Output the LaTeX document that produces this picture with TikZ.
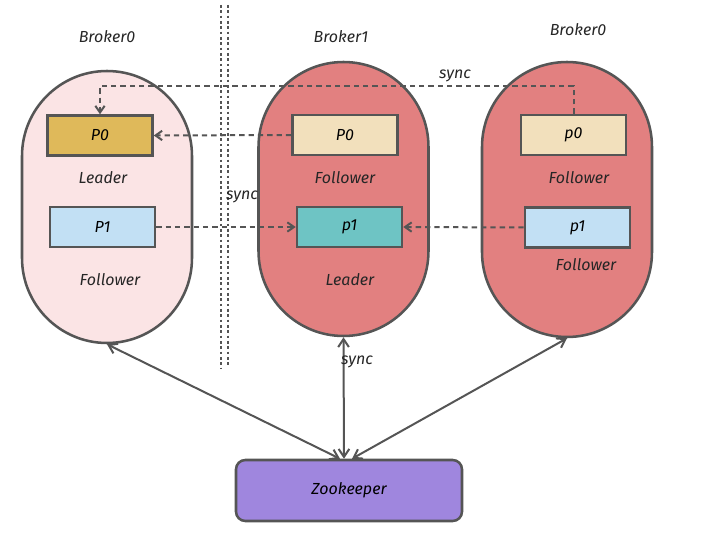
\documentclass[tikz,border=0pt]{standalone}
\usepackage{fontspec}
\setmainfont{Fira Sans}
\usetikzlibrary{arrows.meta}
\definecolor{inkgrey}{RGB}{85,85,85}
\definecolor{palepink}{RGB}{251,228,229}
\definecolor{brokerred}{RGB}{226,128,128}
\definecolor{leadgold}{RGB}{223,185,90}
\definecolor{cream}{RGB}{242,224,188}
\definecolor{paleblue}{RGB}{194,224,244}
\definecolor{teal}{RGB}{110,196,196}
\definecolor{zkpurple}{RGB}{159,134,222}
\tikzset{
  broker/.style={draw=inkgrey, line width=1.9pt, minimum width=127.5pt, rounded corners=63.75pt, inner sep=0pt},
  part/.style={draw=inkgrey, line width=1.9pt, minimum width=78.75pt, minimum height=30pt, inner sep=0pt, font=\itshape\large},
  tag/.style={inner sep=0.75pt, font=\itshape\large, text=black!85},
  syncline/.style={draw=inkgrey, line width=1.5pt, dash pattern=on 4pt off 3pt, -{Straight Barb[length=5pt,width=7pt]}},
  zkline/.style={draw=inkgrey, line width=1.5pt, {Straight Barb[length=6pt,width=8pt]}-{Straight Barb[length=6pt,width=8pt]}}
}
\begin{document}
\begin{tikzpicture}[x=0.75pt,y=0.75pt,yscale=-1,xscale=1]
\useasboundingbox (0,0) rectangle (708,542);
% brokers
\node [broker, fill=palepink, minimum height=204pt] (b0) at (107,207) {};
\node [broker, fill=brokerred, minimum height=205.5pt] (b1) at (343.5,199) {};
\node [broker, fill=brokerred, minimum height=206.25pt] (b2) at (567,199.5) {};
\node [tag] (t0) at (107,37) {Broker0};
\node [tag] (t1) at (341,37) {Broker1};
\node [tag] (t2) at (578,30) {Broker0};
% partitions
\node [part, fill=leadgold] (lp0) at (100,135.5) {P0};
\node [part, fill=paleblue] (lp1) at (102.5,227) {P1};
\node [part, fill=cream] (mp0) at (345,135) {P0};
\node [part, fill=teal] (mp1) at (349.5,227) {p1};
\node [part, fill=cream] (rp0) at (573.5,135) {p0};
\node [part, fill=paleblue] (rp1) at (577.5,227.5) {p1};
\node [tag] (r0) at (103,178) {Leader};
\node [tag] (r1) at (110,280) {Follower};
\node [tag] (r2) at (345,178) {Follower};
\node [tag] (r3) at (350,280) {Leader};
\node [tag] (r4) at (579,178) {Follower};
\node [tag] (r5) at (586,265) {Follower};
% zookeeper
\node [draw=inkgrey, line width=1.9pt, fill=zkpurple, rounded corners=7pt, minimum width=169.5pt, minimum height=45.75pt, font=\itshape\large] (zk) at (349,490.5) {Zookeeper};
% divider
\draw [inkgrey, line width=2pt, dash pattern=on 2pt off 2pt] (221,5) -- (221,368);
\draw [inkgrey, line width=2pt, dash pattern=on 2pt off 2pt] (228,5) -- (228,366);
% replication
\draw [syncline] (rp0.north) -- ++(0,-28) -| (lp0.north);
\draw [syncline] (mp0.west) -- (lp0.east);
\draw [syncline] (lp1.east) -- (mp1.west);
\draw [syncline] (rp1.west) -- (mp1.east);
\node [tag] (s0) at (455,76) {sync};
\node [tag] (s1) at (242,197) {sync};
% zookeeper links
\draw [zkline] (zk.north -| 340,0) -- (b0.south);
\draw [zkline] (zk.north -| 344,0) -- (b1.south);
\draw [zkline] (zk.north -| 352,0) -- (b2.south);
\node [tag] (s2) at (357,362) {sync};
\end{tikzpicture}
\end{document}
